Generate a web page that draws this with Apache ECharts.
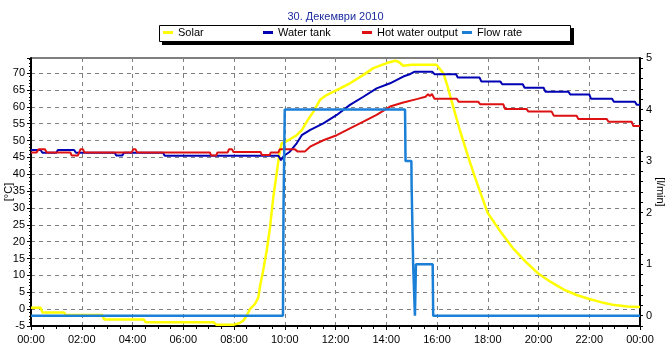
<!DOCTYPE html>
<html>
<head>
<meta charset="utf-8">
<script src="https://cdn.jsdelivr.net/npm/echarts@6/dist/echarts.min.js"></script>
<style>html,body{margin:0;padding:0;background:#fff}#c{width:671px;height:356px}</style>
</head>
<body>
<div id="c"></div>
<script>
// ---- data (hours of day, values) ----
const titleText = '30. Декември 2010';
const seriesNames = ['Solar', 'Water tank', 'Hot water output', 'Flow rate'];
const xTicks = [0, 2, 4, 6, 8, 10, 12, 14, 16, 18, 20, 22, 24];

const solar = [
  [0,0.4],[0.38,0.4],[0.45,-1.0],[1.3,-1.0],[1.36,-1.7],[2.82,-1.7],[2.88,-3.1],[4.45,-3.1],[4.52,-3.9],
  [7.2,-3.9],[7.3,-4.6],[8.0,-4.6],[8.2,-4.2],[8.37,-3.4],[8.5,-1.9],[8.63,0],[8.83,1.6],[8.96,3.5],
  [9.02,6.5],[9.15,11.5],[9.29,17.4],[9.42,24.3],[9.55,33.3],[9.68,40.2],[9.79,46.2],[9.88,49.2],
  [10.14,50.1],[10.47,51.6],[10.67,53.1],[10.9,56],[11.13,58.6],[11.39,62.1],[11.65,63.5],[12.18,65.5],
  [12.57,67],[13.1,69.5],[13.49,71.5],[14.02,73],[14.35,73.7],[14.48,73.4],[14.67,72.2],[15.0,72.5],
  [15.72,72.5],[15.98,72.5],[16.25,70],[16.38,67],[16.64,60],[16.9,53.1],[17.23,45.2],[17.5,39],
  [18,28.5],[18.5,23],[19,18],[19.5,14],[20,10.5],[20.5,8],[21,5.8],[21.5,4.2],[22,3],[22.5,2],
  [23,1.2],[23.5,0.8],[24,0.6]
];

const waterTank = [
  [0,47.2],[0.38,47.2],[0.45,46.4],[1.0,46.4],[1.06,47.2],[1.7,47.2],[1.77,46.4],[3.3,46.4],[3.36,45.6],
  [3.6,45.6],[3.66,46.4],[5.2,46.4],[5.27,45.5],[9.75,45.5],[9.85,44.2],[9.97,45.5],[10.2,46.7],
  [10.47,49.2],[10.67,51.6],[10.99,53.1],[11.52,55.1],[12.05,57.6],[12.57,60.6],[13.1,63],[13.62,65.5],
  [14.15,67],[14.67,69],[14.9,69.6],[15.1,70.4],[15.82,70.4],[15.9,69.7],[16.75,69.7],[16.82,68.7],
  [17.68,68.7],[17.75,67.5],[18.5,67.5],[18.57,66.7],[19.38,66.7],[19.45,65.7],[20.2,65.7],[20.27,64.5],
  [21.18,64.5],[21.25,63.7],[22.0,63.7],[22.07,62.4],[22.9,62.4],[22.97,61.5],[23.8,61.5],[23.87,60.6],
  [24,60.6]
];

const hotWater = [
  [0,46.5],[0.22,46.5],[0.3,47.4],[0.55,47.4],[0.62,46.5],[1.55,46.5],[1.6,45.6],[1.85,45.6],[1.9,46.5],
  [1.95,47.4],[2.05,47.4],[2.1,46.5],[3.97,46.5],[4.03,47.4],[4.12,47.4],[4.18,46.5],[7.05,46.5],
  [7.1,45.6],[7.3,45.6],[7.35,46.5],[7.75,46.5],[7.8,47.4],[7.92,47.4],[7.98,46.6],[9.05,46.6],
  [9.1,45.7],[9.4,45.7],[9.45,46.5],[9.75,46.5],[9.8,47.4],[10.4,47.4],[10.5,46.8],[10.8,46.8],
  [11.0,48.2],[11.52,50.1],[12.05,51.6],[12.57,53.6],[13.1,55.6],[13.62,57.6],[14.15,60.1],[14.67,61.3],
  [15.2,62.3],[15.55,63],[15.65,63.8],[15.72,63.2],[15.8,63.8],[15.9,62.4],[16.78,62.4],[16.85,61.5],
  [17.63,61.5],[17.7,60.8],[18.61,60.8],[18.68,59.4],[19.53,59.4],[19.6,58.6],[20.52,58.6],[20.6,57.4],
  [21.5,57.4],[21.57,56.4],[22.69,56.4],[22.76,55.6],[23.67,55.6],[23.74,54.3],[24,54.3]
];

const flowRate = [
  [0,0],[9.93,0],[9.95,2.0],[9.98,2.0],[10.0,4.0],[14.74,4.0],[14.76,3.0],[14.99,3.0],[15.0,2.5],
  [15.04,2.5],[15.06,1.0],[15.1,1.0],[15.13,0],[15.17,1.0],[15.83,1.0],[15.85,0],[24,0]
];

// ---- chart ----
const FONT = 'Liberation Sans';
const colors = ['#ffff00', '#0000b4', '#dd1111', '#1a7fd6'];
const legendLefts = [163, 263, 362, 462];

const chart = echarts.init(document.getElementById('c'), null, {renderer: 'canvas'});

const hourFmt = v => {
  const h = Math.round(v) % 24;
  return (h < 10 ? '0' : '') + h + ':00';
};

const option = {
  animation: false,
  backgroundColor: '#ffffff',
  title: {
    text: titleText, left: 'center', top: 6,
    textStyle: {fontFamily: FONT, fontSize: 11, fontWeight: 'normal', color: '#1c2ca0'}
  },
  graphic: [
    {type: 'rect', z: 1, shape: {x: 162, y: 28, width: 412, height: 17}, style: {fill: '#000'}},
    {type: 'rect', z: 1, shape: {x: 159.5, y: 25.5, width: 411, height: 16}, style: {fill: '#fff', stroke: '#000', lineWidth: 1}}
  ],
  legend: seriesNames.map((n, i) => ({
    data: [n], left: legendLefts[i], top: 27, padding: 0, z: 5,
    itemWidth: 10, itemHeight: 3, icon: 'rect', selectedMode: false,
    textStyle: {fontFamily: FONT, fontSize: 11, color: '#000'}
  })),
  grid: {left: 31, right: 31, top: 58, bottom: 30, containLabel: false, outerBoundsMode: 'none',
         show: true, borderColor: '#000', borderWidth: 1, backgroundColor: 'transparent'},
  xAxis: [{
    type: 'value', min: 0, max: 24, interval: 2,
    axisLine: {show: true, onZero: false, lineStyle: {color: '#000', width: 2}},
    axisTick: {show: true, length: 4, lineStyle: {color: '#000'}},
    minorTick: {show: true, splitNumber: 4, length: 3, lineStyle: {color: '#000'}},
    axisLabel: {formatter: hourFmt, color: '#000', fontFamily: FONT, fontSize: 11, margin: 8},
    splitLine: {show: true, showMinLine: false, showMaxLine: false, lineStyle: {color: '#808080', type: [4, 4], width: 1}}
  }],
  yAxis: [{
    type: 'value', min: -5, max: 74.5, interval: 5, position: 'left',
    name: '[°C]', nameLocation: 'middle', nameGap: 17, nameRotate: 90, nameMoveOverlap: false,
    nameTextStyle: {fontFamily: FONT, fontSize: 11, color: '#000'},
    axisLine: {show: true, onZero: false, lineStyle: {color: '#000', width: 2}},
    axisTick: {show: true, length: 4, lineStyle: {color: '#000'}},
    minorTick: {show: true, splitNumber: 5, length: 2, lineStyle: {color: '#000'}},
    axisLabel: {
      formatter: v => (Math.abs(v % 5) < 1e-6 ? String(v) : ''),
      color: '#000', fontFamily: FONT, fontSize: 11, margin: 6
    },
    splitLine: {show: true, showMinLine: false, showMaxLine: false, lineStyle: {color: '#808080', type: [4, 4], width: 1}}
  }, {
    type: 'value', min: -0.2, max: 5, interval: 0.2, position: 'right',
    name: '[l/min]', nameLocation: 'middle', nameGap: 15, nameRotate: -90, nameMoveOverlap: false,
    nameTextStyle: {fontFamily: FONT, fontSize: 11, color: '#000'},
    axisLine: {show: true, onZero: false, lineStyle: {color: '#000', width: 2}},
    axisTick: {show: true, length: 3, lineStyle: {color: '#000'}},
    axisLabel: {
      formatter: v => (Math.abs(v - Math.round(v)) < 1e-6 ? String(Math.round(v)) : ''),
      color: '#000', fontFamily: FONT, fontSize: 11, margin: 6
    },
    splitLine: {show: false}
  }],
  series: [
    {name: seriesNames[0], type: 'line', data: solar, yAxisIndex: 0, showSymbol: false, symbol: 'none',
     lineStyle: {color: colors[0], width: 2.5}, itemStyle: {color: colors[0]}},
    {name: seriesNames[1], type: 'line', data: waterTank, yAxisIndex: 0, showSymbol: false, symbol: 'none',
     lineStyle: {color: colors[1], width: 2}, itemStyle: {color: colors[1]}},
    {name: seriesNames[2], type: 'line', data: hotWater, yAxisIndex: 0, showSymbol: false, symbol: 'none',
     lineStyle: {color: colors[2], width: 2}, itemStyle: {color: colors[2]}},
    {name: seriesNames[3], type: 'line', data: flowRate, yAxisIndex: 1, showSymbol: false, symbol: 'none',
     lineStyle: {color: colors[3], width: 2.5}, itemStyle: {color: colors[3]}}
  ]
};
chart.setOption(option);
</script>
</body>
</html>
